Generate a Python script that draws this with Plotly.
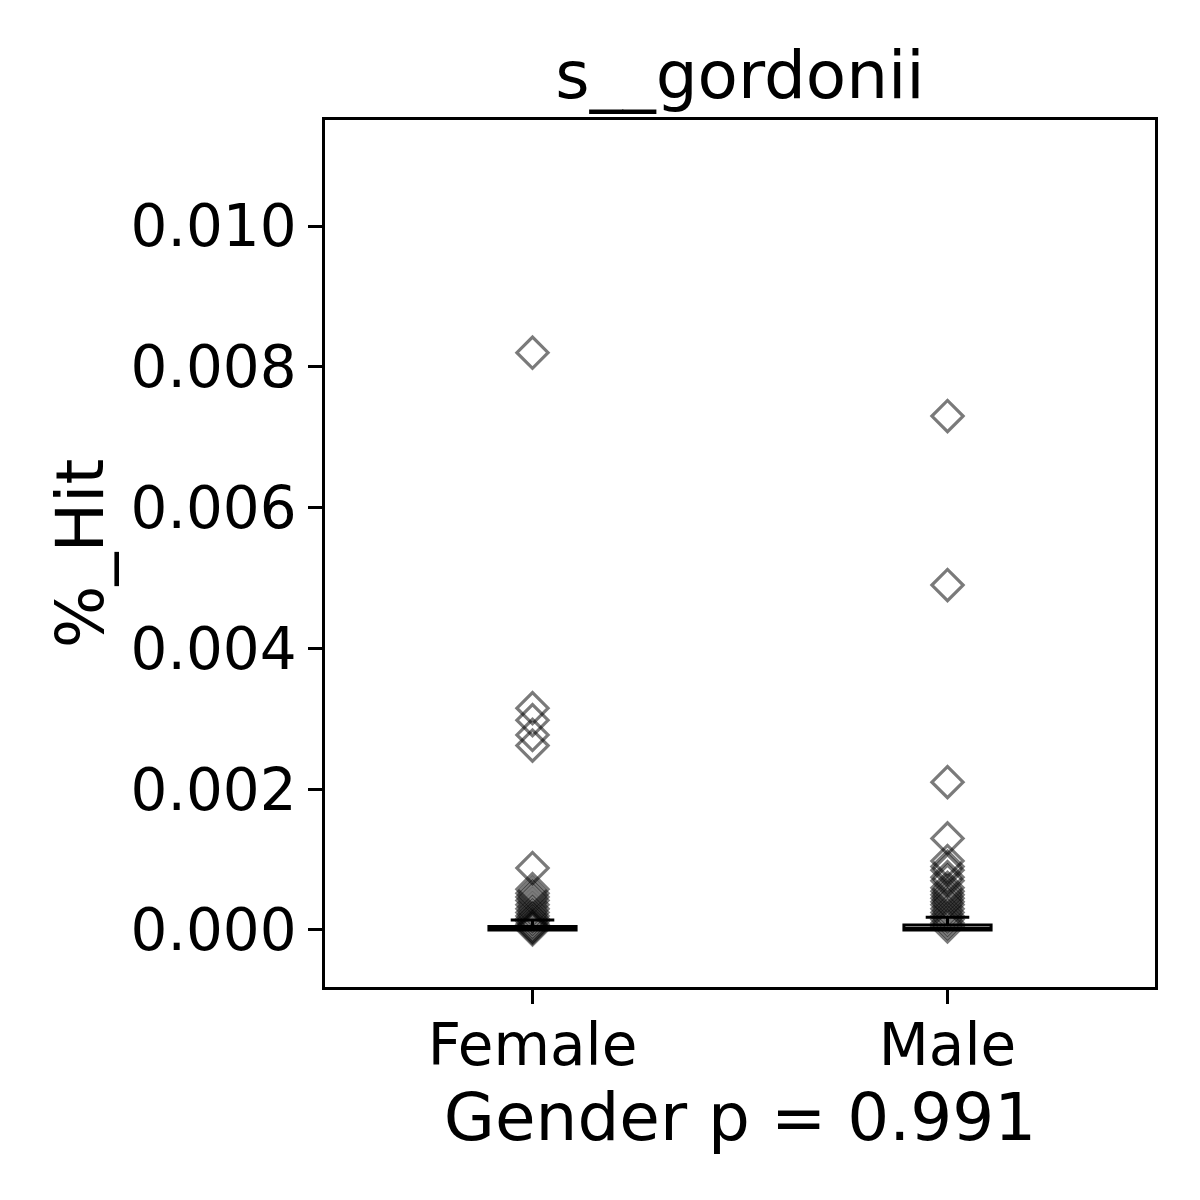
import plotly.graph_objects as go

categories = ["Female", "Male"]
female_vals = [0.0082, 0.00315, 0.00298, 0.00277, 0.00262, 0.00088, 0.00058, 0.00052,
               0.00047, 0.00042, 0.00036, 0.0003, 0.00025, 0.0002, 0.00016, 0.00012,
               0.00008, 0.00005, 0.00003, 0.00001]
male_vals = [0.0073, 0.0049, 0.0021, 0.0013, 0.00098, 0.0009, 0.00085, 0.00075, 0.0007,
             0.0006, 0.00055, 0.0005, 0.00045, 0.0004, 0.00036, 0.0003, 0.00025, 0.0002,
             0.00015, 0.0001, 0.00005]
box_q1 = [0.0, 0.0]
box_median = [0.00001, 0.00002]
box_q3 = [0.00005, 0.00007]
box_lower = [0.0, 0.0]
box_upper = [0.00014, 0.00018]
y_ticks = [0.0, 0.002, 0.004, 0.006, 0.008, 0.010]
y_ticklabels = ["0.000", "0.002", "0.004", "0.006", "0.008", "0.010"]

fig = go.Figure()
fig.add_trace(go.Box(
    x=[0, 1], q1=box_q1, median=box_median, q3=box_q3,
    lowerfence=box_lower, upperfence=box_upper,
    width=0.21, whiskerwidth=0.5, boxpoints=False,
    line=dict(color="black", width=3), fillcolor="rgba(0,0,0,0)",
    showlegend=False,
))
for i, vals in enumerate([female_vals, male_vals]):
    fig.add_trace(go.Scatter(
        x=[i] * len(vals), y=vals, mode="markers",
        marker=dict(symbol="diamond-open", size=24, color="rgba(0,0,0,0.52)",
                    line=dict(width=3.2, color="rgba(0,0,0,0.52)")),
        showlegend=False,
    ))

font = "DejaVu Sans"
fig.update_layout(
    width=1200, height=1200,
    margin=dict(l=317, r=53, t=112, b=221),
    paper_bgcolor="white", plot_bgcolor="white",
    font=dict(family=font, color="black"),
    title=dict(text="s__gordonii", x=0.5, xref="paper", xanchor="center",
               y=1 - 67 / 1200, yref="container", yanchor="middle",
               font=dict(size=66, family=font, color="black")),
)
fig.update_xaxes(
    range=[-0.5, 1.5], tickmode="array", tickvals=[0, 1], ticktext=categories,
    showgrid=False, zeroline=False, showline=True, mirror=True,
    linecolor="black", linewidth=2.5,
    ticks="outside", ticklen=14, tickwidth=2.5, tickcolor="black",
    ticklabelstandoff=-8,
    tickfont=dict(size=58, family=font, color="black"),
    title=dict(text="Gender p = 0.991", font=dict(size=66, family=font, color="black"),
               standoff=14),
)
fig.update_yaxes(
    range=[-0.00081, 0.011506], tickmode="array", tickvals=y_ticks, ticktext=y_ticklabels,
    showgrid=False, zeroline=False, showline=True, mirror=True,
    linecolor="black", linewidth=2.5,
    ticks="outside", ticklen=14, tickwidth=2.5, tickcolor="black",
    tickfont=dict(size=58, family=font, color="black"),
    title=dict(text="%_Hit", font=dict(size=66, family=font, color="black"),
               standoff=6),
)
fig.write_html("out.html")
